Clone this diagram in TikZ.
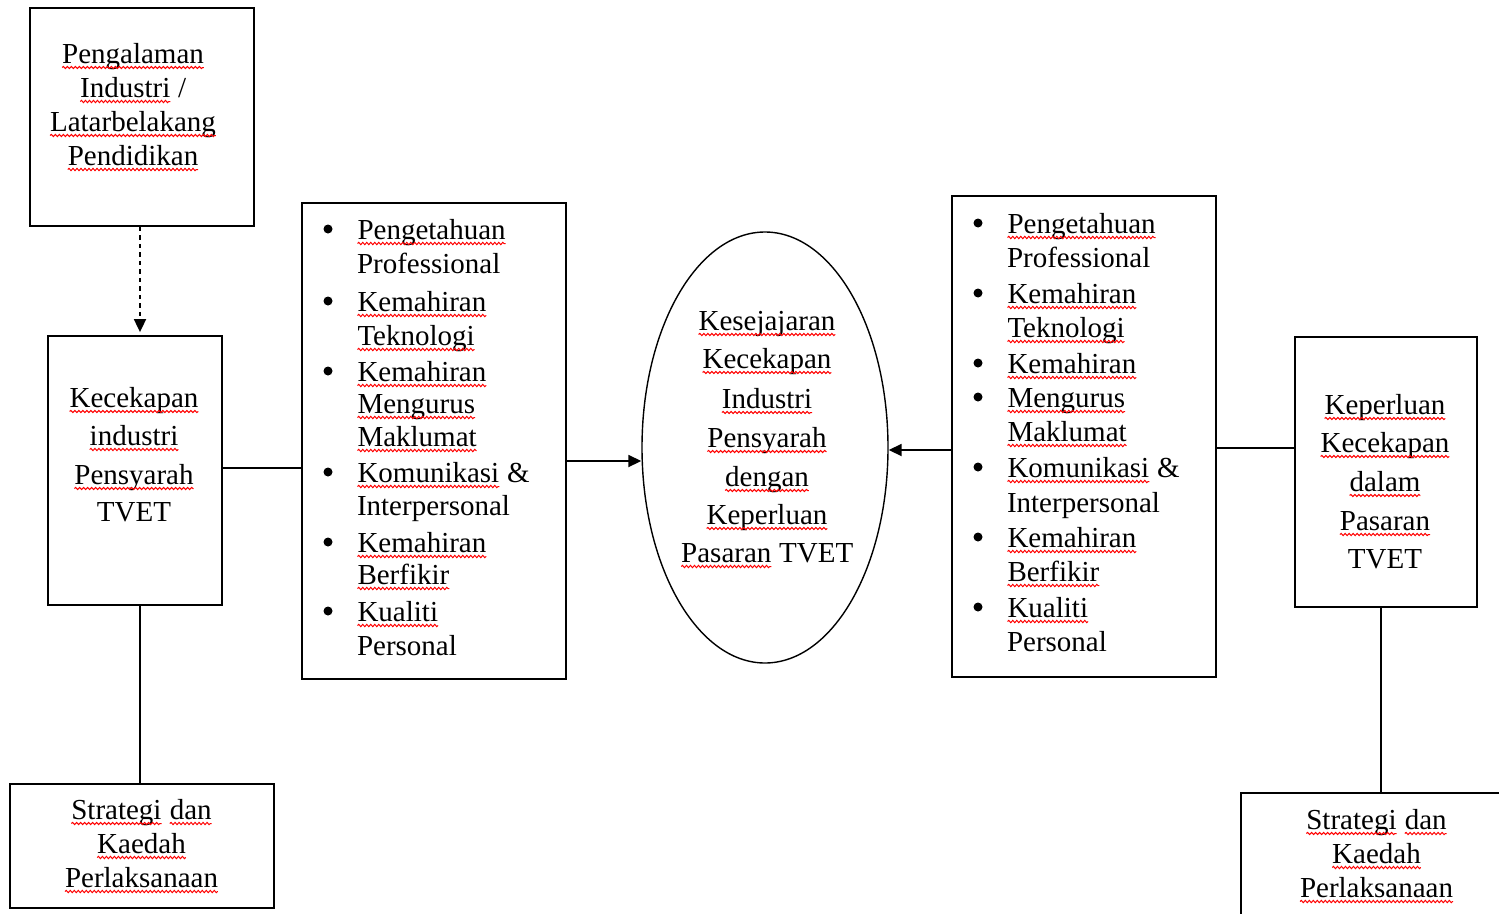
\documentclass[tikz,border=0pt]{standalone}
\usepackage{fontspec}
\setmainfont{Liberation Serif}
\usetikzlibrary{arrows.meta,shapes.geometric,decorations.pathmorphing}
\newcommand\sq[1]{\begin{tikzpicture}[baseline=(sqw.base),x=1pt,y=1pt]\node[inner sep=0pt,outer sep=0pt,draw=none,fill=none,rectangle,anchor=base] (sqw) at (0,0) {#1};\draw[red,line width=1pt,decorate,decoration={snake,amplitude=1.1pt,segment length=4pt}] ([yshift=-4.5pt]sqw.base west) -- ([yshift=-4.5pt]sqw.base east);\end{tikzpicture}}
\tikzset{
  box/.style={draw, line width=1.8pt, inner sep=0pt},
  lbox/.style={draw, line width=1.6pt, inner sep=0pt},
  t/.style={font=\fontsize{29}{34}\selectfont, inner sep=0pt, outer sep=0pt, anchor=base},
  tl/.style={t, anchor=base west},
  bul/.style={circle, fill=black, inner sep=0pt, minimum size=9pt},
  conn/.style={line width=1.8pt},
  arr/.style={line width=1.8pt, -{Triangle[length=13pt,width=12pt]}},
  dasharrow/.style={line width=1.8pt, dash pattern=on 4.5pt off 4pt, -{Triangle[length=13pt,width=12pt]}},
}
\begin{document}
\begin{tikzpicture}[x=1pt,y=-1pt]
\useasboundingbox (0,0) rectangle (1499,913);
\clip (0,0) rectangle (1499,913);
\fill[white] (0,0) rectangle (1499,913);

% boxes
\node[box, minimum width=224pt, minimum height=218pt] (A) at (142,117) {};
\node[box, minimum width=174pt, minimum height=269pt] (B) at (135,470.5) {};
\node[box, minimum width=264pt, minimum height=124pt] (C) at (142,846) {};
\node[lbox, minimum width=264pt, minimum height=476pt] (L) at (434,441) {};
\node[draw, line width=1.4pt, ellipse, inner sep=0pt, minimum width=246pt, minimum height=431pt] (E) at (765,447.5) {};
\node[lbox, minimum width=264pt, minimum height=481pt] (R) at (1084,436.5) {};
\node[box, minimum width=182pt, minimum height=270pt] (K) at (1386,472) {};
\node[box, minimum width=270pt, minimum height=140pt] (S) at (1376,863) {};

% box A text
\node[t] (a1) at (133,63) {\sq{Pengalaman}};
\node[t] (a2) at (133,97) {\sq{Industri} /};
\node[t] (a3) at (133,131) {\sq{Latarbelakang}};
\node[t] (a4) at (133,165) {\sq{Pendidikan}};

% box B text
\node[t] (b1) at (134,407) {\sq{Kecekapan}};
\node[t] (b2) at (134,445) {\sq{industri}};
\node[t] (b3) at (134,484) {\sq{Pensyarah}};
\node[t] (b4) at (134,521) {TVET};

% box C text
\node[t] (c1) at (141.5,819) {\sq{Strategi} \sq{dan}};
\node[t] (c2) at (141.5,853) {\sq{Kaedah}};
\node[t] (c3) at (141.5,887) {\sq{Perlaksanaan}};

% left list
\node[bul] (lb1) at (328,229) {};
\node[tl] (l1) at (357,239) {\sq{Pengetahuan}};
\node[tl] (l2) at (357,273) {Professional};
\node[bul] (lb2) at (328,301) {};
\node[tl] (l3) at (357,311) {\sq{Kemahiran}};
\node[tl] (l4) at (357,345) {\sq{Teknologi}};
\node[bul] (lb3) at (328,371) {};
\node[tl] (l5) at (357,381) {\sq{Kemahiran}};
\node[tl] (l6) at (357,413) {\sq{Mengurus}};
\node[tl] (l7) at (357,446) {\sq{Maklumat}};
\node[bul] (lb4) at (328,472) {};
\node[tl] (l8) at (357,482) {\sq{Komunikasi} \&};
\node[tl] (l9) at (357,515) {Interpersonal};
\node[bul] (lb5) at (328,542) {};
\node[tl] (l10) at (357,552) {\sq{Kemahiran}};
\node[tl] (l11) at (357,584) {\sq{Berfikir}};
\node[bul] (lb6) at (328,611) {};
\node[tl] (l12) at (357,621) {\sq{Kualiti}};
\node[tl] (l13) at (357,655) {Personal};

% ellipse text
\node[t] (e1) at (767,330) {\sq{Kesejajaran}};
\node[t] (e2) at (767,368) {\sq{Kecekapan}};
\node[t] (e3) at (767,408) {\sq{Industri}};
\node[t] (e4) at (767,447) {\sq{Pensyarah}};
\node[t] (e5) at (767,486) {\sq{dengan}};
\node[t] (e6) at (767,524) {\sq{Keperluan}};
\node[t] (e7) at (767,562) {\sq{Pasaran} TVET};

% right list
\node[bul] (rb1) at (978,223) {};
\node[tl] (r1) at (1007,233) {\sq{Pengetahuan}};
\node[tl] (r2) at (1007,267) {Professional};
\node[bul] (rb2) at (978,293) {};
\node[tl] (r3) at (1007,303) {\sq{Kemahiran}};
\node[tl] (r4) at (1007,337) {\sq{Teknologi}};
\node[bul] (rb3) at (978,363) {};
\node[tl] (r5) at (1007,373) {\sq{Kemahiran}};
\node[bul] (rb4) at (978,397) {};
\node[tl] (r6) at (1007,407) {\sq{Mengurus}};
\node[tl] (r7) at (1007,441) {\sq{Maklumat}};
\node[bul] (rb5) at (978,467) {};
\node[tl] (r8) at (1007,477) {\sq{Komunikasi} \&};
\node[tl] (r9) at (1007,512) {Interpersonal};
\node[bul] (rb6) at (978,537) {};
\node[tl] (r10) at (1007,547) {\sq{Kemahiran}};
\node[tl] (r11) at (1007,581) {\sq{Berfikir}};
\node[bul] (rb7) at (978,607) {};
\node[tl] (r12) at (1007,617) {\sq{Kualiti}};
\node[tl] (r13) at (1007,651) {Personal};

% box K text
\node[t] (k1) at (1385,414) {\sq{Keperluan}};
\node[t] (k2) at (1385,452) {\sq{Kecekapan}};
\node[t] (k3) at (1385,491) {\sq{dalam}};
\node[t] (k4) at (1385,530) {\sq{Pasaran}};
\node[t] (k5) at (1385,568) {TVET};

% box S text
\node[t] (s1) at (1376.5,829) {\sq{Strategi} \sq{dan}};
\node[t] (s2) at (1376.5,863) {\sq{Kaedah}};
\node[t] (s3) at (1376.5,897) {\sq{Perlaksanaan}};

% connectors
\coordinate (xa) at (140,0);
\coordinate (xk) at (1381,0);
\coordinate (y1) at (0,468);
\coordinate (y2) at (0,461);
\coordinate (y3) at (0,450);
\coordinate (y4) at (0,448);
\draw[dasharrow] (A.south -| xa) -- ([yshift=3pt]B.north -| xa);
\draw[conn] (B.east |- y1) -- (L.west |- y1);
\draw[conn] (B.south -| xa) -- (C.north -| xa);
\draw[arr] (L.east |- y2) -- (E.west |- y2);
\draw[arr] (R.west |- y3) -- (E.east |- y3);
\draw[conn] (R.east |- y4) -- (K.west |- y4);
\draw[conn] (K.south -| xk) -- (S.north -| xk);
\end{tikzpicture}
\end{document}
